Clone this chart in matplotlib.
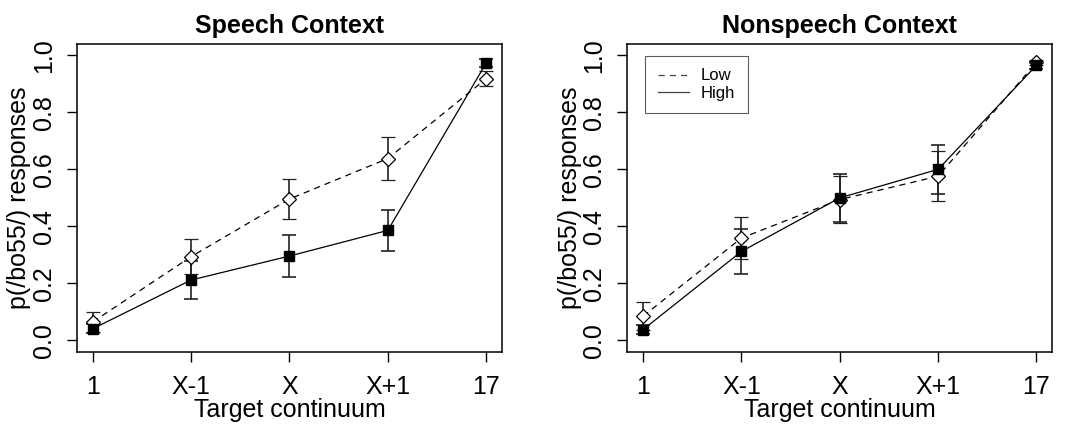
import matplotlib.pyplot as plt
from matplotlib.lines import Line2D

# x categories
steps = ['1', 'X-1', 'X', 'X+1', '17']

# Speech context
speech_low = [0.065, 0.294, 0.496, 0.638, 0.918]
speech_low_err = [0.035, 0.062, 0.070, 0.076, 0.026]
speech_high = [0.041, 0.212, 0.296, 0.386, 0.973]
speech_high_err = [0.015, 0.067, 0.075, 0.072, 0.013]

# Nonspeech context
nonsp_low = [0.085, 0.359, 0.494, 0.576, 0.975]
nonsp_low_err = [0.050, 0.075, 0.083, 0.088, 0.010]
nonsp_high = [0.038, 0.312, 0.500, 0.600, 0.965]
nonsp_high_err = [0.015, 0.080, 0.083, 0.085, 0.012]

plt.rcParams['font.family'] = ['Liberation Sans', 'DejaVu Sans']

fig = plt.figure(figsize=(10.65, 4.26), dpi=100)
ax1 = fig.add_axes([0.0723, 0.174, 0.399, 0.723])
ax2 = fig.add_axes([0.589, 0.174, 0.399, 0.723])

panels = [(ax1, 'Speech Context', speech_low, speech_low_err, speech_high, speech_high_err),
          (ax2, 'Nonspeech Context', nonsp_low, nonsp_low_err, nonsp_high, nonsp_high_err)]

dash = (0, (5, 4))
x = list(range(len(steps)))
for ax, title, lo, lo_e, hi, hi_e in panels:
    ax.errorbar(x, lo, yerr=lo_e, color='black', ls=dash, lw=0.9,
                marker='D', ms=7, mfc='white', mec='black', mew=0.9,
                ecolor='#222222', elinewidth=1.2, capsize=5, capthick=1.2)
    ax.errorbar(x, hi, yerr=hi_e, color='black', ls='-', lw=0.9,
                marker='s', ms=7, mfc='black', mec='black',
                ecolor='#222222', elinewidth=1.2, capsize=5, capthick=1.2)
    ax.set_xlim(-0.16, 4.16)
    ax.set_ylim(-0.04, 1.04)
    ax.set_xticks(x)
    ax.set_xticklabels(steps, fontsize=18)
    ax.set_yticks([0.0, 0.2, 0.4, 0.6, 0.8, 1.0])
    ax.set_yticklabels(['0.0', '0.2', '0.4', '0.6', '0.8', '1.0'], fontsize=18,
                       rotation=90, va='center')
    ax.tick_params(length=7, width=1)
    ax.tick_params(axis='x', pad=10)
    ax.tick_params(axis='y', pad=8)
    ax.set_xlabel('Target continuum', fontsize=18, labelpad=-1)
    ax.set_ylabel('p(/bo55/) responses', fontsize=18, labelpad=0.5)
    ax.set_title(title, fontsize=18, fontweight='bold', pad=8)
    for s in ax.spines.values():
        s.set_linewidth(1.1)

handles = [Line2D([], [], color='#444444', ls=dash, lw=0.9),
           Line2D([], [], color='#444444', ls='-', lw=0.9)]
leg = ax2.legend(handles, ['Low', 'High'], loc='upper left',
                 bbox_to_anchor=(0.042, 0.961), borderaxespad=0, fontsize=12,
                 frameon=True, fancybox=False, edgecolor='#333333',
                 handlelength=1.9, borderpad=0.75, labelspacing=0.15,
                 handletextpad=0.7)
leg.get_frame().set_linewidth(0.8)

fig.savefig('out.png', dpi=100)
